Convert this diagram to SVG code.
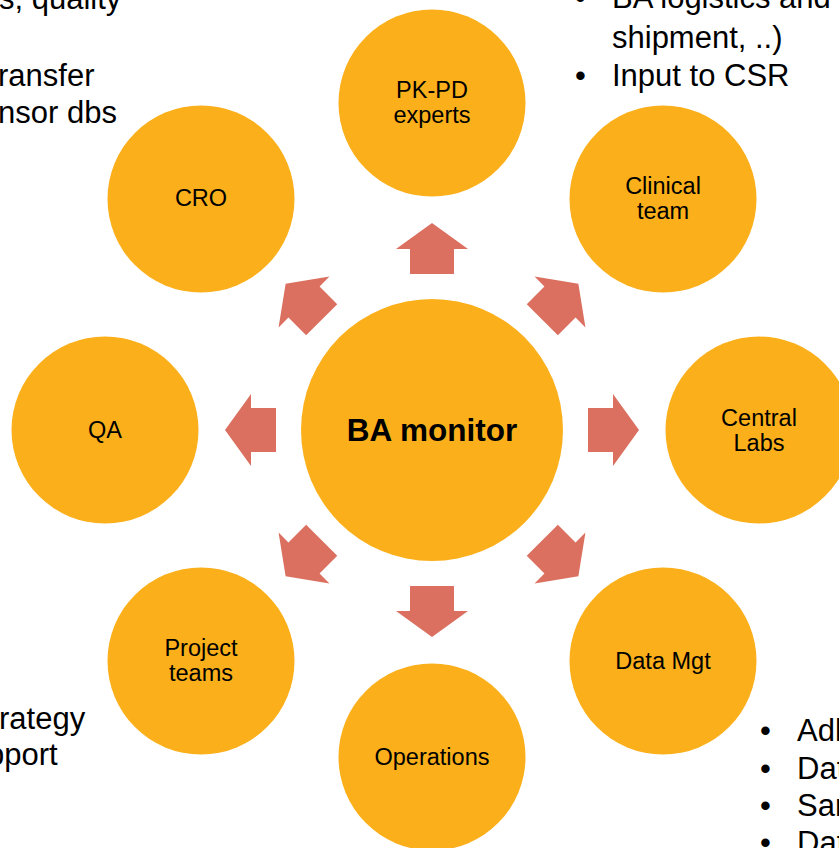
<svg xmlns="http://www.w3.org/2000/svg" xmlns:xlink="http://www.w3.org/1999/xlink" width="839" height="848" viewBox="0 0 839 848">
<style>
.node{fill:#FBB01B}
.lbl{font-family:"Liberation Sans",Arial,sans-serif;font-size:23.5px;fill:#000;text-anchor:middle}
.hub{font-family:"Liberation Sans",Arial,sans-serif;font-size:31.5px;font-weight:bold;fill:#000;text-anchor:middle}
.bg{font-family:"Liberation Sans",Arial,sans-serif;font-size:31px;fill:#000}
.arr{fill:#DB7060}
</style>
<defs>
<path id="arrow" d="M156,-22 L181,-22 L181,-36 L207,0 L181,36 L181,22 L156,22 Z"/>
</defs>
<rect width="839" height="848" fill="#fff"/>
<g id="background-text">
<text class="bg" x="-1" y="9">s, quality</text>
<text class="bg" x="-2" y="86">ransfer</text>
<text class="bg" x="-2" y="123">nsor dbs</text>
<text class="bg" x="575" y="8">•</text>
<text class="bg" x="612" y="8">BA logistics and</text>
<text class="bg" x="612" y="48">shipment, ..)</text>
<text class="bg" x="575" y="86">•</text>
<text class="bg" x="612" y="86">Input to CSR</text>
<text class="bg" x="-1" y="729">rategy</text>
<text class="bg" x="-13" y="765">pport</text>
<text class="bg" x="760" y="741">•</text>
<text class="bg" x="797" y="741">Adl</text>
<text class="bg" x="760" y="779">•</text>
<text class="bg" x="797" y="779">Dat</text>
<text class="bg" x="760" y="816">•</text>
<text class="bg" x="797" y="816">Sar</text>
<text class="bg" x="760" y="853">•</text>
<text class="bg" x="797" y="853">Dat</text>
</g>
<g id="connectors">
<use xlink:href="#arrow" class="arr" transform="translate(432,430) rotate(0)"/>
<use xlink:href="#arrow" class="arr" transform="translate(432,430) rotate(45)"/>
<use xlink:href="#arrow" class="arr" transform="translate(432,430) rotate(90)"/>
<use xlink:href="#arrow" class="arr" transform="translate(432,430) rotate(135)"/>
<use xlink:href="#arrow" class="arr" transform="translate(432,430) rotate(180)"/>
<use xlink:href="#arrow" class="arr" transform="translate(432,430) rotate(225)"/>
<use xlink:href="#arrow" class="arr" transform="translate(432,430) rotate(270)"/>
<use xlink:href="#arrow" class="arr" transform="translate(432,430) rotate(315)"/>
</g>
<g id="ba-monitor">
<circle class="node" cx="432" cy="430" r="131"/>
<text class="hub" x="432" y="441">BA monitor</text>
</g>
<g id="pk-pd-experts">
<circle class="node" cx="432" cy="103" r="93.5"/>
<text class="lbl" x="432" y="98">PK-PD</text>
<text class="lbl" x="432" y="123">experts</text>
</g>
<g id="clinical-team">
<circle class="node" cx="663" cy="199" r="93.5"/>
<text class="lbl" x="663" y="194">Clinical</text>
<text class="lbl" x="663" y="219">team</text>
</g>
<g id="central-labs">
<circle class="node" cx="759" cy="430" r="93.5"/>
<text class="lbl" x="759" y="426">Central</text>
<text class="lbl" x="759" y="451">Labs</text>
</g>
<g id="data-mgt">
<circle class="node" cx="663" cy="661" r="93.5"/>
<text class="lbl" x="663" y="669">Data Mgt</text>
</g>
<g id="operations">
<circle class="node" cx="432" cy="757" r="93.5"/>
<text class="lbl" x="432" y="765">Operations</text>
</g>
<g id="project-teams">
<circle class="node" cx="201" cy="661" r="93.5"/>
<text class="lbl" x="201" y="656">Project</text>
<text class="lbl" x="201" y="681">teams</text>
</g>
<g id="qa">
<circle class="node" cx="105" cy="430" r="93.5"/>
<text class="lbl" x="105" y="438">QA</text>
</g>
<g id="cro">
<circle class="node" cx="201" cy="199" r="93.5"/>
<text class="lbl" x="201" y="206">CRO</text>
</g>
</svg>
